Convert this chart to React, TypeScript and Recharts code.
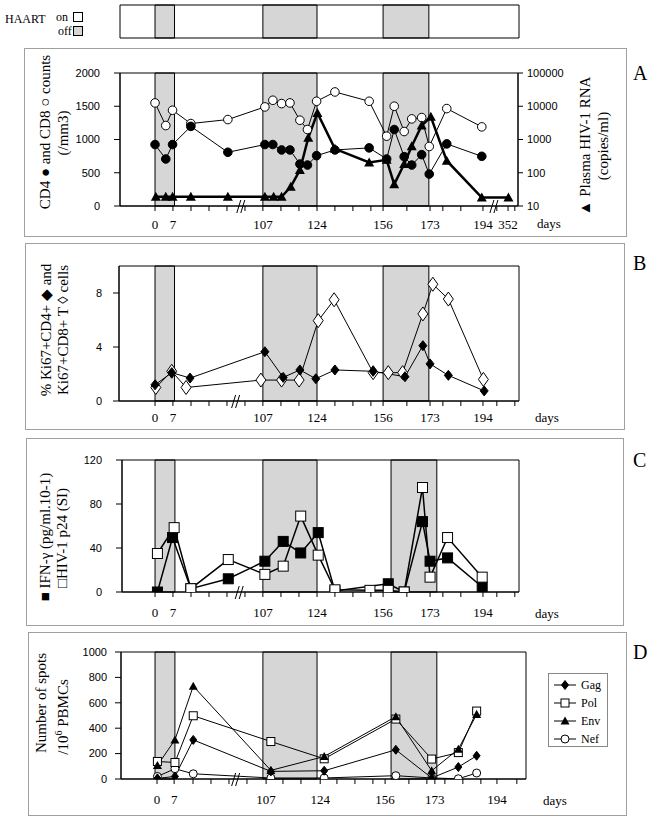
import React from "react";
import { ComposedChart, Line, XAxis, YAxis, ReferenceArea, ReferenceDot, Legend } from "recharts";

const SANS = "'Liberation Sans', Arial, sans-serif";
const SERIF = "'Liberation Serif', 'Times New Roman', serif";
const SHADE = "#d6d6d6";

// time axis is drawn with breaks, so x is the position along the axis (0 = left edge, 100 = right edge of panel A)
const dayLabels = ["0", "7", "107", "124", "156", "173", "194", "352"];
const dayPosA = [8.8, 13.3, 35.9, 49.5, 66.1, 77.9, 91.2, 97.5];
const dayPosB = [8.8, 13.3, 35.9, 49.5, 66.1, 77.9, 91.2];
const dayPosD = [9.3, 13.6, 36.7, 50.3, 66.6, 79.1, 94.7];

// HAART interruptions
const offA = [[8.8, 13.7], [35.9, 49.5], [66.1, 77.6]];
const offC = [[8.8, 13.8], [35.9, 49.5], [68.1, 79.6]];

// A: CD4 / CD8 counts and plasma RNA
const cellPos = [8.8, 11.5, 13.2, 17.8, 27.1, 36.4, 38.4, 40.6, 42.7, 45.2, 47.1, 49.4, 54.0, 62.6, 67.0, 68.9, 71.4, 73.3, 75.8, 77.7, 82.1, 90.9];
const cd8 = [1550, 1210, 1440, 1240, 1300, 1490, 1590, 1540, 1550, 1290, 1150, 1575, 1715, 1575, 1050, 1500, 1120, 1310, 1330, 895, 1465, 1190];
const cd4 = [924, 707, 924, 1197, 808, 924, 924, 843, 843, 631, 616, 757, 843, 874, 707, 1150, 742, 616, 772, 480, 934, 747];
const rnaPos = [9.0, 11.5, 13.2, 17.8, 27.1, 36.4, 38.6, 40.6, 42.9, 45.2, 47.3, 49.6, 54.0, 62.6, 67.0, 68.9, 71.4, 73.3, 75.8, 78.1, 82.1, 90.9, 97.6];
const rna = [19, 19, 19, 19, 19, 19, 19, 19, 38, 120, 1120, 6300, 525, 205, 245, 45, 183, 630, 2640, 4800, 230, 18, 18];

// B: Ki67
const kiPos4 = [8.8, 13.0, 17.6, 36.4, 41.0, 45.2, 49.2, 54.0, 63.6, 71.6, 76.1, 77.9, 82.5, 91.5];
const ki4 = [1.2, 2.1, 1.7, 3.65, 1.75, 2.3, 1.65, 2.3, 2.2, 1.8, 4.1, 2.75, 1.9, 0.75];
const kiPos8 = [9.0, 13.0, 16.6, 35.4, 40.6, 45.0, 49.8, 53.8, 63.6, 67.4, 71.0, 76.1, 78.6, 82.5, 91.3];
const ki8 = [1.0, 2.2, 1.0, 1.55, 1.55, 1.55, 5.95, 7.5, 2.1, 2.1, 2.1, 6.45, 8.65, 7.55, 1.6];

// C: IFN-g and p24
const ifnPos = [9.4, 13.2, 17.8, 27.2, 36.4, 41.0, 45.4, 49.8, 54.0, 67.4, 71.4, 76.0, 77.9, 82.3, 91.0];
const ifn = [0, 49.5, 3, 12, 28, 46, 35.5, 54, 1, 7.5, 0, 64, 28, 31, 4.5];
const p24Pos = [9.4, 13.6, 17.8, 27.2, 36.4, 41.0, 45.4, 49.8, 54.0, 62.8, 67.4, 71.4, 76.0, 77.9, 82.3, 91.0];
const p24 = [35, 58.5, 3, 29.5, 16, 23.5, 69, 33.5, 2, 1.5, 1.5, 0, 95, 13.5, 49.5, 13.5];

// D: ELISPOT
const spotPos = [9.4, 13.8, 18.4, 37.9, 51.3, 69.3, 78.3, 85.0, 89.6];
const gag = [5, 20, 308, 60, 65, 230, 8, 94, 183];
const pol = [138, 130, 498, 295, 159, 472, 157, 208, 535];
const env = [107, 308, 731, 68, 177, 491, 65, 235, 509];
const nef = [20, 81, 41, 8, 8, 26, 8, 2, 47];

const zip = (xs: number[], ys: number[]) => xs.map((t, i) => ({ t, v: ys[i] }));

const circle = (fill: string, r: number) => (p: any) =>
  <circle key={`c${p.index}`} cx={p.cx} cy={p.cy} r={r} fill={fill} stroke="#000" strokeWidth={1} />;
const triangle = (s: number) => (p: any) =>
  <polygon key={`t${p.index}`} points={`${p.cx},${p.cy - s} ${p.cx + s},${p.cy + s * 0.8} ${p.cx - s},${p.cy + s * 0.8}`} fill="#000" />;
const diamond = (fill: string, w: number, h: number) => (p: any) =>
  <polygon key={`d${p.index}`} points={`${p.cx},${p.cy - h} ${p.cx + w},${p.cy} ${p.cx},${p.cy + h} ${p.cx - w},${p.cy}`} fill={fill} stroke="#000" strokeWidth={1} />;
const square = (fill: string, s: number) => (p: any) =>
  <rect key={`s${p.index}`} x={p.cx - s / 2} y={p.cy - s / 2} width={s} height={s} fill={fill} stroke="#000" strokeWidth={1} />;

const Slashes = (p: any) => (
  <g stroke="#000" strokeWidth={1}>
    <line x1={p.cx - 5} y1={p.cy + 7} x2={p.cx - 1} y2={p.cy - 6} />
    <line x1={p.cx - 1} y1={p.cy + 7} x2={p.cx + 3} y2={p.cy - 6} />
  </g>
);

function makeTicks(labels: number[]) {
  const out = [...labels];
  for (let t = labels[0] + 4.52; t < 100; t += 4.52) {
    if (labels.every((l) => Math.abs(l - t) > 1.6)) out.push(Math.round(t * 100) / 100);
  }
  return out.sort((a, b) => a - b);
}

type Cfg = {
  left: number; right: number; top: number; bottom: number;
  xDomain: [number, number];
  yDomain: [number, number];
  yTicks: number[];
  yTickMargin: number;
  off: number[][];
  dayPos: number[];
  labelDy: number;
  breaks: number[];
  rightAxis?: boolean;
};

function Panel({ cfg, children }: { cfg: Cfg; children: React.ReactNode }) {
  const labels = new Map(cfg.dayPos.map((p, i) => [p, dayLabels[i]]));
  const h = cfg.bottom - cfg.top + 50;
  const xTick = (p: any) => {
    const lab = labels.get(p.payload.value);
    if (!lab) return <g />;
    return (
      <text x={p.x} y={p.y + cfg.labelDy} textAnchor="middle" fontFamily={SERIF} fontSize={13} fill="#000">
        {lab}
      </text>
    );
  };
  const yTick = (anchor: string) => (p: any) => (
    <text x={p.x} y={p.y} dy="0.35em" textAnchor={anchor} fontFamily={SANS} fontSize={11} fill="#000">
      {p.payload.value}
    </text>
  );
  return (
    <div style={{ position: "absolute", left: 0, top: cfg.top - 10 }}>
      <ComposedChart
        width={653}
        height={h}
        margin={{ top: 10, bottom: 10, left: cfg.left - 50, right: 653 - cfg.right - (cfg.rightAxis ? 60 : 0) }}
      >
        <XAxis
          type="number"
          dataKey="t"
          domain={cfg.xDomain}
          ticks={makeTicks(cfg.dayPos)}
          interval={0}
          tickSize={5}
          tickMargin={0}
          height={30}
          allowDataOverflow
          axisLine={{ stroke: "#000" }}
          tickLine={{ stroke: "#000" }}
          tick={xTick}
        />
        <YAxis
          yAxisId="l"
          type="number"
          domain={cfg.yDomain}
          ticks={cfg.yTicks}
          interval={0}
          width={50}
          tickSize={6}
          tickMargin={cfg.yTickMargin}
          allowDataOverflow
          axisLine={{ stroke: "#000" }}
          tickLine={{ stroke: "#000" }}
          tick={yTick("end")}
        />
        {cfg.rightAxis && (
          <YAxis
            yAxisId="r"
            orientation="right"
            scale="log"
            type="number"
            domain={[10, 100000]}
            ticks={[10, 100, 1000, 10000, 100000]}
            interval={0}
            width={60}
            tickSize={5}
            tickMargin={4}
            allowDataOverflow
            axisLine={{ stroke: "#000" }}
            tickLine={{ stroke: "#000" }}
            tick={yTick("start")}
          />
        )}
        {cfg.off.map(([a, b], i) => (
          <ReferenceArea key={`off${i}`} yAxisId="l" x1={a} x2={b} fill={SHADE} fillOpacity={1} stroke="#000" strokeWidth={1} />
        ))}
        <ReferenceArea
          yAxisId="l"
          x1={cfg.xDomain[0]}
          x2={cfg.xDomain[1]}
          y1={cfg.yDomain[0]}
          y2={cfg.yDomain[1]}
          fill="none"
          fillOpacity={0}
          stroke="#000"
          strokeWidth={1}
        />
        {children}
        {cfg.breaks.map((b, i) => (
          <ReferenceDot key={`br${i}`} yAxisId="l" x={b} y={cfg.yDomain[0]} ifOverflow="visible" shape={Slashes} />
        ))}
      </ComposedChart>
    </div>
  );
}

const vText = (cx: number, cy: number, size = 15): React.CSSProperties => ({
  position: "absolute",
  left: cx,
  top: cy,
  transform: "translate(-50%, -50%) rotate(-90deg)",
  whiteSpace: "nowrap",
  fontFamily: SERIF,
  fontSize: size,
  lineHeight: 1,
});

const txt = (left: number, cy: number, size = 13): React.CSSProperties => ({
  position: "absolute",
  left,
  top: cy,
  transform: "translateY(-50%)",
  whiteSpace: "nowrap",
  fontFamily: SERIF,
  fontSize: size,
  lineHeight: 1,
});

const frame = (left: number, top: number, right: number, bottom: number): React.CSSProperties => ({
  position: "absolute",
  left,
  top,
  width: right - left,
  height: bottom - top,
  border: "1px solid #a0a0a0",
  boxSizing: "border-box",
});

const legendRows = [
  { name: "Gag", mark: diamond("#000", 3.5, 4.5) },
  { name: "Pol", mark: square("#fff", 8) },
  { name: "Env", mark: triangle(4.5) },
  { name: "Nef", mark: circle("#fff", 4) },
];

const spotLegend = () => (
  <div style={{ width: 60, height: 74, border: "1px solid #888", boxSizing: "border-box", background: "#fff", paddingTop: 2 }}>
    {legendRows.map((r, i) => (
      <div key={r.name} style={{ display: "flex", alignItems: "center", height: 18 }}>
        <svg width={28} height={14} style={{ marginLeft: 3 }}>
          <line x1={2} y1={7} x2={24} y2={7} stroke="#000" strokeWidth={1} />
          {r.mark({ cx: 13, cy: 7, index: i })}
        </svg>
        <span style={{ fontFamily: SERIF, fontSize: 12, marginLeft: 1 }}>{r.name}</span>
      </div>
    ))}
  </div>
);

// HAART strip: one row, on/off by period
const stripData = [{ t: 0, v: 0.5 }, { t: 100.25, v: 0.5 }];

export default function App() {
  const cfgA: Cfg = {
    left: 120, right: 518, top: 73, bottom: 206, xDomain: [0, 100], yDomain: [0, 2000],
    yTicks: [0, 500, 1000, 1500, 2000], yTickMargin: 14, off: offA, dayPos: dayPosA, labelDy: 18,
    breaks: [30.6, 94.2], rightAxis: true,
  };
  const cfgB: Cfg = {
    left: 119, right: 519, top: 266, bottom: 401, xDomain: [-0.25, 100.25], yDomain: [0, 10],
    yTicks: [0, 4, 8], yTickMargin: 11, off: offA, dayPos: dayPosB, labelDy: 16, breaks: [29.3],
  };
  const cfgC: Cfg = {
    left: 122, right: 519, top: 460, bottom: 592, xDomain: [0.5, 100.25], yDomain: [0, 120],
    yTicks: [0, 40, 80, 120], yTickMargin: 14, off: offC, dayPos: dayPosB, labelDy: 20, breaks: [30.2],
  };
  const cfgD: Cfg = {
    left: 121, right: 526, top: 652, bottom: 779, xDomain: [0.25, 102], yDomain: [0, 1000],
    yTicks: [0, 200, 400, 600, 800, 1000], yTickMargin: 8, off: offC, dayPos: dayPosD, labelDy: 20, breaks: [29.3],
  };

  return (
    <div style={{ position: "absolute", left: 0, top: 0, width: 653, height: 821, background: "#fff", overflow: "hidden" }}>
      {/* HAART on/off strip */}
      <div style={txt(5, 19, 12)}>HAART</div>
      <div style={txt(56, 17, 12)}>on</div>
      <div style={{ position: "absolute", left: 73, top: 12, width: 8, height: 8, border: "1px solid #000", background: "#fff" }} />
      <div style={txt(58, 31, 12)}>off</div>
      <div style={{ position: "absolute", left: 73, top: 26, width: 8, height: 8, border: "1px solid #000", background: SHADE }} />
      <div style={{ position: "absolute", left: 0, top: 0 }}>
        <ComposedChart width={653} height={43} margin={{ top: 5, bottom: 5, left: 120, right: 134 }} data={stripData}>
          <XAxis type="number" dataKey="t" domain={[0, 100.25]} hide />
          <YAxis type="number" domain={[0, 1]} hide width={0} />
          <Line dataKey="v" stroke="none" dot={false} activeDot={false} isAnimationActive={false} />
          {offA.map(([a, b], i) => (
            <ReferenceArea key={i} x1={a} x2={b} y1={0} y2={1} fill={SHADE} fillOpacity={1} stroke="#000" />
          ))}
          <ReferenceArea x1={0} x2={100.25} y1={0} y2={1} fill="none" fillOpacity={0} stroke="#000" />
        </ComposedChart>
      </div>

      {/* panel frames */}
      <div style={frame(24, 48, 627, 237)} />
      <div style={frame(25, 243, 625, 430)} />
      <div style={frame(26, 438, 624, 626)} />
      <div style={frame(28, 632, 627, 816)} />

      {/* A */}
      <Panel cfg={cfgA}>
        <Line yAxisId="l" data={zip(cellPos, cd8)} dataKey="v" stroke="#000" strokeWidth={1} dot={circle("#fff", 4.3)} activeDot={false} isAnimationActive={false} />
        <Line yAxisId="l" data={zip(cellPos, cd4)} dataKey="v" stroke="#000" strokeWidth={1} dot={circle("#000", 4.3)} activeDot={false} isAnimationActive={false} />
        <Line yAxisId="r" data={zip(rnaPos, rna)} dataKey="v" stroke="#000" strokeWidth={2.5} dot={triangle(5)} activeDot={false} isAnimationActive={false} />
      </Panel>
      <div style={vText(45, 132)}>CD4 ● and CD8 ○ counts</div>
      <div style={vText(63, 133)}>(/mm3)</div>
      <div style={vText(585, 146)}>▲ Plasma HIV-1 RNA</div>
      <div style={vText(603, 146)}>(copies/ml)</div>
      <div style={txt(537, 223)}>days</div>
      <div style={txt(633, 73, 20)}>A</div>

      {/* B */}
      <Panel cfg={cfgB}>
        <Line yAxisId="l" data={zip(kiPos8, ki8)} dataKey="v" stroke="#000" strokeWidth={1} dot={diamond("#fff", 5, 7)} activeDot={false} isAnimationActive={false} />
        <Line yAxisId="l" data={zip(kiPos4, ki4)} dataKey="v" stroke="#000" strokeWidth={1} dot={diamond("#000", 4, 5)} activeDot={false} isAnimationActive={false} />
      </Panel>
      <div style={vText(46, 330)}>% Ki67+CD4+ ◆ and</div>
      <div style={vText(63, 330)}>Ki67+CD8+ T ◊ cells</div>
      <div style={txt(535, 417)}>days</div>
      <div style={txt(633, 263, 20)}>B</div>

      {/* C */}
      <Panel cfg={cfgC}>
        <Line yAxisId="l" data={zip(ifnPos, ifn)} dataKey="v" stroke="#000" strokeWidth={1.5} dot={square("#000", 10)} activeDot={false} isAnimationActive={false} />
        <Line yAxisId="l" data={zip(p24Pos, p24)} dataKey="v" stroke="#000" strokeWidth={1.5} dot={square("#fff", 10)} activeDot={false} isAnimationActive={false} />
      </Panel>
      <div style={vText(45, 537)}>■ IFN-γ (pg/ml.10-1)</div>
      <div style={vText(62, 538)}>□HIV-1 p24 (SI)</div>
      <div style={txt(535, 613)}>days</div>
      <div style={txt(633, 460, 20)}>C</div>

      {/* D */}
      <Panel cfg={cfgD}>
        <Line yAxisId="l" data={zip(spotPos, nef)} dataKey="v" stroke="#000" strokeWidth={1} dot={circle("#fff", 4)} activeDot={false} isAnimationActive={false} />
        <Line yAxisId="l" data={zip(spotPos, gag)} dataKey="v" stroke="#000" strokeWidth={1} dot={diamond("#000", 3.5, 4.5)} activeDot={false} isAnimationActive={false} />
        <Line yAxisId="l" data={zip(spotPos, pol)} dataKey="v" stroke="#000" strokeWidth={1} dot={square("#fff", 8)} activeDot={false} isAnimationActive={false} />
        <Line yAxisId="l" data={zip(spotPos, env)} dataKey="v" stroke="#000" strokeWidth={1} dot={triangle(4.5)} activeDot={false} isAnimationActive={false} />
        <Legend layout="vertical" align="center" verticalAlign="middle" content={spotLegend} wrapperStyle={{ left: 548, top: 31, width: 60, height: 74 }} />
      </Panel>
      <div style={vText(41, 703)}>Number of spots</div>
      <div style={vText(62, 717)}>
        /10<sup style={{ fontSize: 10 }}>6</sup> PBMCs
      </div>
      <div style={txt(543, 800)}>days</div>
      <div style={txt(633, 652, 20)}>D</div>
    </div>
  );
}
